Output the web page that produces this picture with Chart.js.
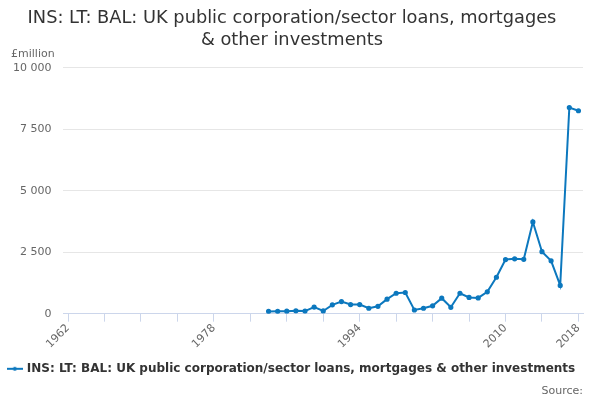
<!DOCTYPE html>
<html>
<head>
<meta charset="utf-8">
<script src="https://cdn.jsdelivr.net/npm/chart.js@4"></script>
<style>
  html, body { margin: 0; padding: 0; background: #fff; }
  #wrap { width: 600px; height: 400px; }
</style>
</head>
<body>
<div id="wrap"><canvas id="chart"></canvas></div>
<script>
const years = [1984, 1985, 1986, 1987, 1988, 1989, 1990, 1991, 1992, 1993,
  1994, 1995, 1996, 1997, 1998, 1999, 2000, 2001, 2002, 2003,
  2004, 2005, 2006, 2007, 2008, 2009, 2010, 2011, 2012, 2013,
  2014, 2015, 2016, 2017, 2018]
const values = [90, 95, 100, 115, 105, 270, 110, 360, 490, 370,
  370, 220, 300, 590, 830, 860, 150, 220, 320, 630,
  260, 830, 660, 640, 890, 1480, 2200, 2230, 2210, 3730,
  2520, 2150, 1150, 8380, 8250]
const tickYears = [1962, 1966, 1970, 1974, 1978, 1982, 1986, 1990, 1994, 1998, 2002, 2006, 2010, 2014, 2018]
const labelYears = [1962, 1978, 1994, 2010, 2018]
const yTicks = [0, 2500, 5000, 7500, 10000]

const seriesName = 'INS: LT: BAL: UK public corporation/sector loans, mortgages & other investments'
const blue = '#0c78be'
const font = 'DejaVu Sans'

// little line + dot symbol for the legend
const sym = document.createElement('canvas')
sym.width = 16; sym.height = 8
const sc = sym.getContext('2d')
sc.strokeStyle = blue; sc.lineWidth = 2
sc.beginPath(); sc.moveTo(0, 4); sc.lineTo(16, 4); sc.stroke()
sc.fillStyle = blue
sc.beginPath(); sc.arc(8, 4, 2, 0, Math.PI * 2); sc.fill()

const unitLabel = {
  id: 'unitLabel',
  afterDraw(chart) {
    const c = chart.ctx
    c.save()
    c.font = '11px ' + font
    c.fillStyle = '#666'
    c.textAlign = 'left'
    c.textBaseline = 'alphabetic'
    c.fillText('£million', 11, chart.chartArea.top - 11)
    c.restore()
  }
}

const fmt = v => String(v).replace(/\B(?=(\d{3})+(?!\d))/g, ' ')

new Chart(document.getElementById('chart'), {
  type: 'line',
  data: {
    datasets: [{
      label: seriesName,
      data: years.map((y, i) => ({ x: y, y: values[i] })),
      borderColor: blue,
      backgroundColor: blue,
      borderWidth: 2,
      pointRadius: 1.6,
      pointHoverRadius: 3,
      tension: 0,
      pointStyle: 'circle'
    }]
  },
  options: {
    responsive: true,
    maintainAspectRatio: false,
    animation: false,
    layout: { padding: { left: 1, right: 17, top: 8, bottom: 2 } },
    plugins: {
      title: {
        display: true,
        text: ['INS: LT: BAL: UK public corporation/sector loans, mortgages', '& other investments'],
        color: '#333',
        font: { family: font, size: 17.8, weight: 'normal' },
        padding: { top: 0, bottom: 17 },
        lineHeight: 1.15
      },
      subtitle: {
        display: true,
        position: 'bottom',
        align: 'end',
        text: 'Source:',
        color: '#666',
        font: { family: font, size: 11 },
        padding: { top: 0, bottom: 0 }
      },
      legend: {
        position: 'bottom',
        labels: {
          usePointStyle: true,
          pointStyle: sym,
          color: '#333',
          font: { family: font, size: 12, weight: 'bold' },
          padding: 12,
          boxWidth: 16
        }
      },
      tooltip: { enabled: false }
    },
    scales: {
      x: {
        type: 'linear',
        min: 1961.5,
        max: 2018.5,
        afterBuildTicks: axis => { axis.ticks = tickYears.map(v => ({ value: v })) },
        grid: {
          drawOnChartArea: false,
          drawTicks: true,
          tickLength: 8,
          color: '#ccd6eb'
        },
        border: { color: '#ccd6eb' },
        ticks: {
          autoSkip: false,
          minRotation: 45,
          maxRotation: 45,
          color: '#666',
          font: { family: font, size: 11 },
          padding: 0,
          callback: v => labelYears.includes(v) ? String(v) : ''
        }
      },
      y: {
        min: 0,
        max: 10000,
        afterBuildTicks: axis => { axis.ticks = yTicks.map(v => ({ value: v })) },
        grid: { color: '#e6e6e6', drawTicks: false },
        border: { display: false },
        ticks: {
          color: '#666',
          font: { family: font, size: 11 },
          padding: 12,
          callback: v => fmt(v)
        }
      }
    }
  },
  plugins: [unitLabel]
})
</script>
</body>
</html>
